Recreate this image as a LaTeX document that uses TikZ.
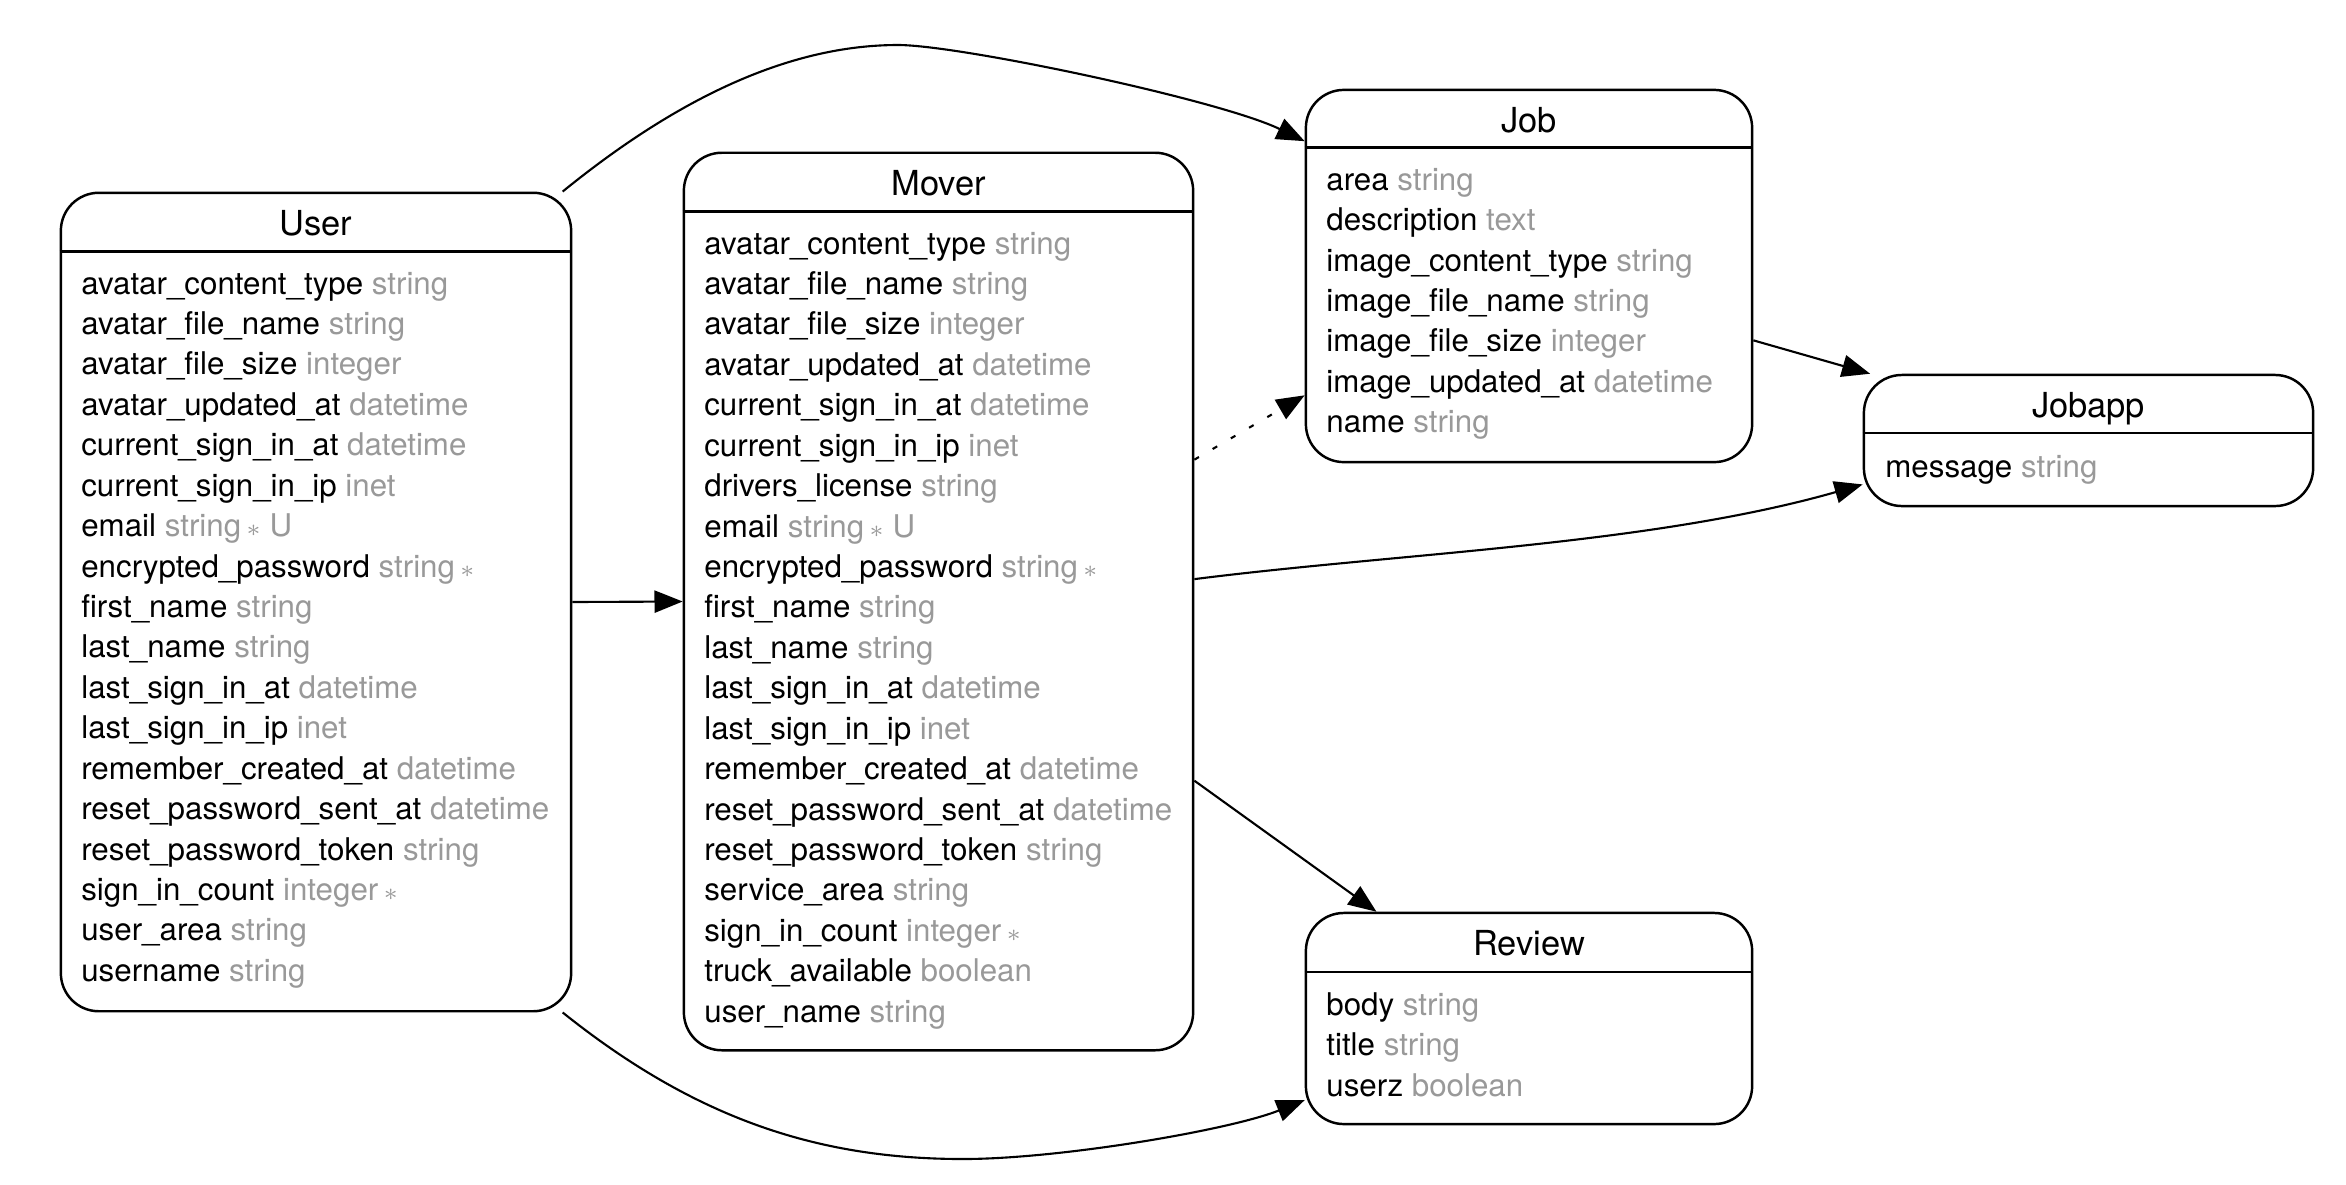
\documentclass[tikz,border=0pt]{standalone}
\usepackage{fontspec}
\setmainfont{TeX Gyre Heros}
\usetikzlibrary{arrows.meta}
\definecolor{typegray}{gray}{0.6}
\newcommand{\req}{\,{\scriptsize$\ast$}}

\begin{document}
\begin{tikzpicture}[x=0.01cm, y=-0.01cm,
    entity/.style={draw, line width=0.7pt, rounded corners=0.38cm, inner sep=0},
    title/.style={anchor=base, inner sep=0, font=\fontsize{9.8}{12}\selectfont},
    field/.style={anchor=base west, inner sep=0, font=\fontsize{8.9}{10.5}\selectfont},
    rel/.style={line width=0.6pt, -{Triangle[length=8pt, width=6.3pt]}}]
    \useasboundingbox (0,0) rectangle (2346,1184);

    % User
    \node[entity, minimum width=5.10cm, minimum height=8.18cm] (user) at (316,602) {};
    \node[title] (user-title) at ([yshift=-0.44cm]user.north) {User};
    \draw[line width=0.7pt] ([yshift=-0.6cm]user.north west) -- ([yshift=-0.6cm]user.north east);
    \foreach \f/\t [count=\i] in {avatar\_content\_type/string, avatar\_file\_name/string,
        avatar\_file\_size/integer, avatar\_updated\_at/datetime, current\_sign\_in\_at/datetime,
        current\_sign\_in\_ip/inet, email/string\req{} U, encrypted\_password/string\req,
        first\_name/string, last\_name/string, last\_sign\_in\_at/datetime, last\_sign\_in\_ip/inet,
        remember\_created\_at/datetime, reset\_password\_sent\_at/datetime,
        reset\_password\_token/string, sign\_in\_count/integer\req, user\_area/string, username/string}
        \node[field] (user-\i) at ([xshift=0.21cm, yshift={-1.025cm-(\i-1)*0.404cm}]user.north west)
            {\f\ \textcolor{typegray}{\t}};

    % Mover
    \node[entity, minimum width=5.09cm, minimum height=8.97cm] (mover) at (938.5,601.5) {};
    \node[title] (mover-title) at ([yshift=-0.44cm]mover.north) {Mover};
    \draw[line width=0.7pt] ([yshift=-0.6cm]mover.north west) -- ([yshift=-0.6cm]mover.north east);
    \foreach \f/\t [count=\i] in {avatar\_content\_type/string, avatar\_file\_name/string,
        avatar\_file\_size/integer, avatar\_updated\_at/datetime, current\_sign\_in\_at/datetime,
        current\_sign\_in\_ip/inet, drivers\_license/string, email/string\req{} U,
        encrypted\_password/string\req, first\_name/string, last\_name/string,
        last\_sign\_in\_at/datetime, last\_sign\_in\_ip/inet, remember\_created\_at/datetime,
        reset\_password\_sent\_at/datetime, reset\_password\_token/string, service\_area/string,
        sign\_in\_count/integer\req, truck\_available/boolean, user\_name/string}
        \node[field] (mover-\i) at ([xshift=0.21cm, yshift={-1.025cm-(\i-1)*0.404cm}]mover.north west)
            {\f\ \textcolor{typegray}{\t}};

    % Job
    \node[entity, minimum width=4.46cm, minimum height=3.72cm] (job) at (1529,276) {};
    \node[title] (job-title) at ([yshift=-0.44cm]job.north) {Job};
    \draw[line width=0.7pt] ([yshift=-0.59cm]job.north west) -- ([yshift=-0.59cm]job.north east);
    \foreach \f/\t [count=\i] in {area/string, description/text, image\_content\_type/string,
        image\_file\_name/string, image\_file\_size/integer, image\_updated\_at/datetime, name/string}
        \node[field] (job-\i) at ([xshift=0.21cm, yshift={-1.015cm-(\i-1)*0.404cm}]job.north west)
            {\f\ \textcolor{typegray}{\t}};

    % Jobapp
    \node[entity, minimum width=4.49cm, minimum height=1.31cm] (jobapp) at (2088.5,440.5) {};
    \node[title] (jobapp-title) at ([yshift=-0.44cm]jobapp.north) {Jobapp};
    \draw[line width=0.7pt] ([yshift=-0.59cm]jobapp.north west) -- ([yshift=-0.59cm]jobapp.north east);
    \node[field] (jobapp-1) at ([xshift=0.22cm, yshift=-1.035cm]jobapp.north west)
        {message \textcolor{typegray}{string}};

    % Review
    \node[entity, minimum width=4.46cm, minimum height=2.11cm] (review) at (1529,1018.5) {};
    \node[title] (review-title) at ([yshift=-0.44cm]review.north) {Review};
    \draw[line width=0.7pt] ([yshift=-0.6cm]review.north west) -- ([yshift=-0.6cm]review.north east);
    \foreach \f/\t [count=\i] in {body/string, title/string, userz/boolean}
        \node[field] (review-\i) at ([xshift=0.21cm, yshift={-1.035cm-(\i-1)*0.404cm}]review.north west)
            {\f\ \textcolor{typegray}{\t}};

    % Relations
    \draw[rel] (user.east) -- (mover.west);
    \draw[rel] (user.59.5) .. controls (690,88) and (800,45) .. (898,45)
        .. controls (960,45) and (1220,100) .. (job.149.6);
    \draw[rel] (user.-59.5) .. controls (697,1120) and (820,1159) .. (963,1159)
        .. controls (1060,1159) and (1230,1130) .. (review.200.75);
    \draw[rel, dash pattern=on 1.5pt off 4.5pt] (mover.29.07) -- (job.208.86);
    \draw[rel] (mover.5.3) .. controls (1400,553) and (1650,545) .. (jobapp.191.9);
    \draw[rel] (mover.-35.5) -- (review.145.4);
    \draw[rel] (job.-16.5) -- (jobapp.163.6);
\end{tikzpicture}
\end{document}
